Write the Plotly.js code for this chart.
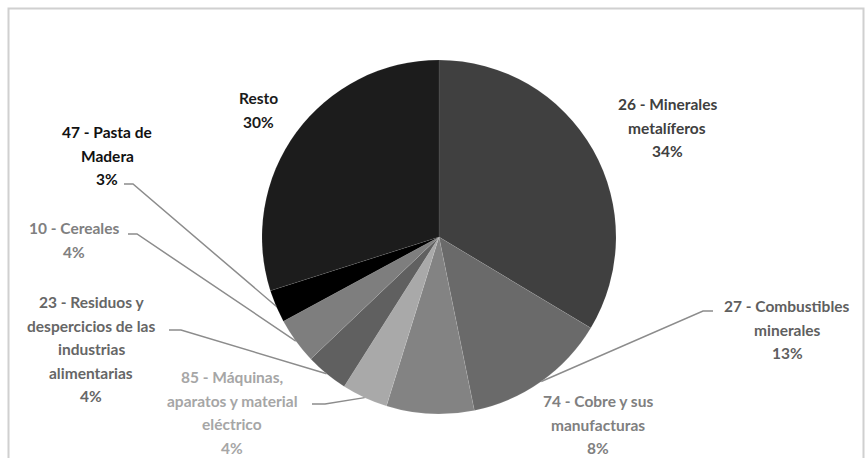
<!DOCTYPE html>
<html>
<head>
<meta charset="utf-8">
<script src="https://cdn.plot.ly/plotly-3.0.1.min.js"></script>
<style>html,body{margin:0;padding:0;background:#fff;}#chart{width:866px;height:458px;}</style>
</head>
<body>
<div id="chart"></div>
<script>
// ---- data ----
const categoryLines = [
  ['26 - Minerales', 'metalíferos'],
  ['27 - Combustibles', 'minerales'],
  ['74 - Cobre y sus', 'manufacturas'],
  ['85 - Máquinas,', 'aparatos y material', 'eléctrico'],
  ['23 - Residuos y', 'despercicios de las', 'industrias', 'alimentarias'],
  ['10 - Cereales'],
  ['47 - Pasta de', 'Madera'],
  ['Resto']
];
const categories = categoryLines.map(l => l.join(' '));
const values = [33.6, 13.2, 8.0, 4.2, 3.9, 4.2, 3.0, 29.9];

// ---- styles / layout ----
const W = 866, H = 458;
const sliceColors = ['#404040', '#6a6a6a', '#838383', '#a9a9a9', '#606060', '#7e7e7e', '#000000', '#1c1c1c'];
const textColors  = ['#404040', '#5f5f5f', '#808080', '#a6a6a6', '#666666', '#808080', '#111111', '#1a1a1a'];
const cx = 439, cy = 237, R = 177;
// label block: centre x, first line y (px); leader: [label end point, elbow point] or null
const labelPos = [
  {x: 667, y: 104, leader: null},
  {x: 787, y: 306, leader: [[713, 311], [703, 311]]},
  {x: 598, y: 401, leader: null},
  {x: 232, y: 377, leader: [[312, 404], [325, 404]]},
  {x: 91,  y: 302, leader: [[169, 330], [181, 330]]},
  {x: 74,  y: 228, leader: [[128, 234], [137, 234]]},
  {x: 107, y: 132, leader: [[124, 184], [133, 184]]},
  {x: 258, y: 98,  leader: null}
];
const lineStep = 23.6;

const px = v => v / W;
const py = v => 1 - v / H;

const total = values.reduce((a, b) => a + b, 0);
const annotations = [];
const shapes = [];
let cum = 0;
values.forEach((v, i) => {
  const pct = Math.round(v / total * 100) + '%';
  const lines = categoryLines[i].concat([pct]);
  const lp = labelPos[i];
  lines.forEach((t, k) => {
    annotations.push({
      xref: 'paper', yref: 'paper', x: px(lp.x), y: py(lp.y + k * lineStep),
      xanchor: 'center', yanchor: 'middle', showarrow: false, text: t,
      font: {family: 'Lato, "Open Sans", sans-serif', size: 15.5, color: textColors[i], weight: 700}
    });
  });
  const mid = (cum + v / 2) / total * 2 * Math.PI;
  cum += v;
  if (lp.leader) {
    const ex = cx + R * Math.sin(mid), ey = cy - R * Math.cos(mid);
    const [a, b] = lp.leader;
    shapes.push({type: 'path', xref: 'paper', yref: 'paper',
      path: `M ${px(a[0])} ${py(a[1])} L ${px(b[0])} ${py(b[1])} L ${px(ex)} ${py(ey)}`,
      line: {color: '#8c8c8c', width: 1.5}});
  }
});
// frame
shapes.push({type: 'path', xref: 'paper', yref: 'paper',
  path: `M ${px(8.5)} ${py(470)} L ${px(8.5)} ${py(8.5)} L ${px(863.5)} ${py(8.5)} L ${px(863.5)} ${py(470)}`,
  line: {color: '#d0d0d0', width: 2}});

const trace = {
  type: 'pie',
  labels: categories,
  values: values,
  sort: false,
  direction: 'clockwise',
  rotation: 0,
  textinfo: 'none',
  hoverinfo: 'skip',
  marker: {colors: sliceColors, line: {color: 'rgba(255,255,255,0.15)', width: 0.5}},
  domain: {x: [px(cx - R), px(cx + R)], y: [py(cy + R), py(cy - R)]},
  showlegend: false
};

Plotly.newPlot('chart', [trace], {
  width: W, height: H,
  margin: {l: 0, r: 0, t: 0, b: 0},
  paper_bgcolor: '#ffffff',
  showlegend: false,
  annotations: annotations,
  shapes: shapes
}, {displayModeBar: false, staticPlot: true});
</script>
</body>
</html>
